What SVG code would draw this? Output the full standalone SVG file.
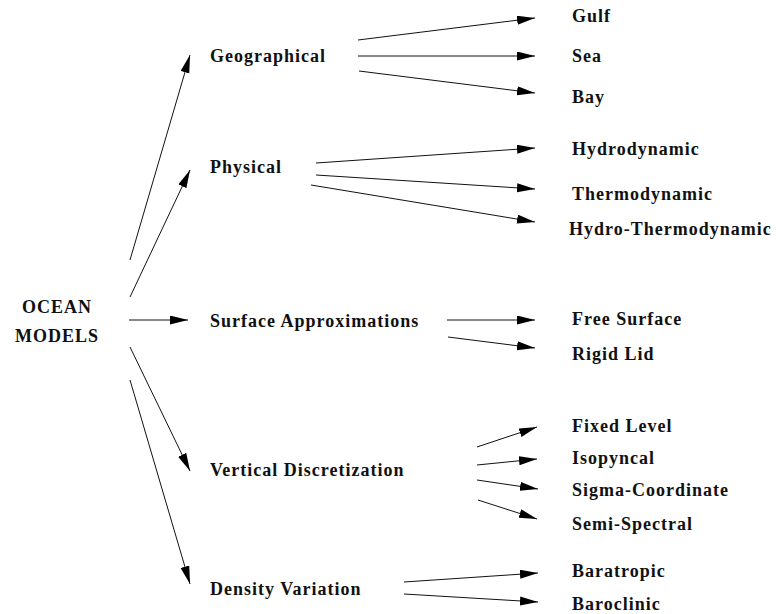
<svg xmlns="http://www.w3.org/2000/svg" width="776" height="614" viewBox="0 0 776 614">
<style>
text{font-weight:bold;font-size:18px;letter-spacing:1px;fill:#111}
.c line{stroke:#111;stroke-width:1;fill:none;marker-end:url(#ah)}
</style>
<defs>
<marker id="ah" markerUnits="userSpaceOnUse" markerWidth="18" markerHeight="10" refX="18" refY="4.5" orient="auto">
<path d="M0,0 L18,4.5 L0,9 z" fill="#000"/>
</marker>
</defs>
<rect width="776" height="614" fill="#fff"/>
<g font-family="Liberation Serif, Times New Roman, Tinos, DejaVu Serif, serif">
<g id="root"><text x="57" y="313" text-anchor="middle">OCEAN</text><text x="57" y="342" text-anchor="middle">MODELS</text></g>
<g id="geographical"><text x="210" y="62">Geographical</text></g>
<g id="physical"><text x="210" y="173">Physical</text></g>
<g id="surface"><text x="210" y="327">Surface Approximations</text></g>
<g id="vertical"><text x="210" y="476">Vertical Discretization</text></g>
<g id="density"><text x="210" y="595">Density Variation</text></g>
<g id="gulf"><text x="572" y="22">Gulf</text></g>
<g id="sea"><text x="572" y="62">Sea</text></g>
<g id="bay"><text x="572" y="103">Bay</text></g>
<g id="hydro"><text x="572" y="155">Hydrodynamic</text></g>
<g id="thermo"><text x="572" y="200">Thermodynamic</text></g>
<g id="hydrothermo"><text x="569" y="235">Hydro-Thermodynamic</text></g>
<g id="free"><text x="572" y="325">Free Surface</text></g>
<g id="rigid"><text x="572" y="360">Rigid Lid</text></g>
<g id="fixed"><text x="572" y="432">Fixed Level</text></g>
<g id="iso"><text x="572" y="464">Isopyncal</text></g>
<g id="sigma"><text x="572" y="496">Sigma-Coordinate</text></g>
<g id="semi"><text x="572" y="530">Semi-Spectral</text></g>
<g id="barat"><text x="572" y="577">Baratropic</text></g>
<g id="baroc"><text x="572" y="610">Baroclinic</text></g>
</g>
<g class="c" id="connectors">
<line x1="130" y1="260" x2="190" y2="55"/>
<line x1="130" y1="297" x2="190" y2="170"/>
<line x1="129" y1="320" x2="188" y2="320"/>
<line x1="130" y1="347" x2="190" y2="471"/>
<line x1="130" y1="380" x2="190" y2="584"/>
<line x1="358" y1="40" x2="535" y2="18"/>
<line x1="358" y1="56" x2="535" y2="56"/>
<line x1="359" y1="71" x2="535" y2="93"/>
<line x1="316" y1="163" x2="535" y2="148"/>
<line x1="316" y1="175" x2="535" y2="189"/>
<line x1="311" y1="185" x2="535" y2="222"/>
<line x1="447" y1="320" x2="535" y2="320"/>
<line x1="448" y1="337" x2="535" y2="348"/>
<line x1="477" y1="447" x2="537" y2="427"/>
<line x1="477" y1="465" x2="537" y2="459"/>
<line x1="477" y1="480" x2="538" y2="489"/>
<line x1="478" y1="500" x2="537" y2="519"/>
<line x1="404" y1="582" x2="538" y2="573"/>
<line x1="404" y1="594" x2="538" y2="602"/>
</g>
</svg>
